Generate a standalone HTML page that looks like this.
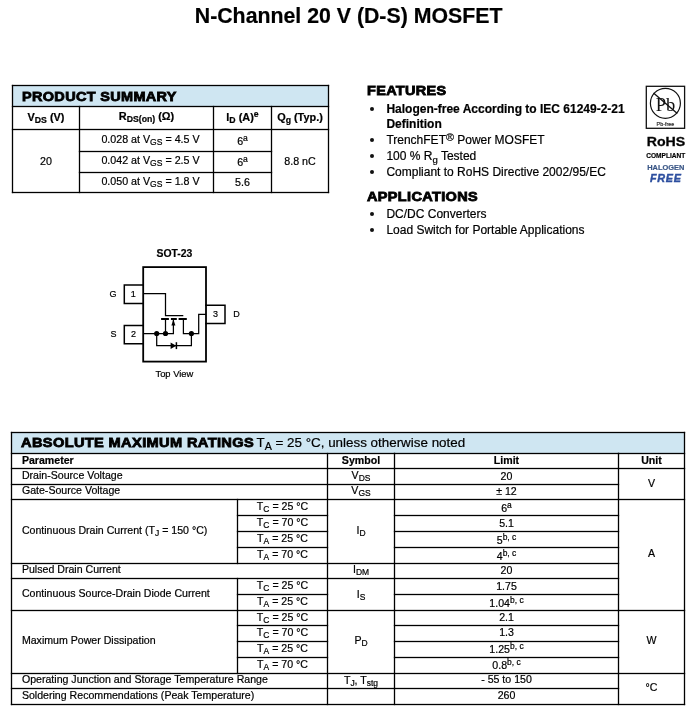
<!DOCTYPE html>
<html><head><meta charset="utf-8"><style>
html,body{margin:0;padding:0;background:#fff;}
body{width:692px;height:710px;position:relative;overflow:hidden;will-change:transform;font-family:"Liberation Sans",sans-serif;color:#000;}
.t{position:absolute;white-space:nowrap;line-height:normal;-webkit-text-stroke:0.2px currentColor;}
.abs{position:absolute;}
.sb{line-height:0;}
.hv{-webkit-text-stroke:0.8px #000;color:#000;}
.dot{position:absolute;width:4px;height:4px;border-radius:50%;background:#111;}
</style></head><body>
<svg class="abs" style="left:0;top:0" width="692" height="710" viewBox="0 0 692 710"><rect x="13" y="86" width="315" height="20" fill="#cfe6f2"/><rect x="12" y="433" width="672" height="20" fill="#cfe6f2"/><g fill="#000"><rect x="11.85" y="84.85" width="317.30" height="1.3"/><rect x="11.85" y="191.85" width="317.30" height="1.3"/><rect x="11.85" y="84.85" width="1.3" height="108.30"/><rect x="327.85" y="84.85" width="1.3" height="108.30"/><rect x="11.85" y="105.85" width="317.30" height="1.3"/><rect x="11.85" y="128.85" width="317.30" height="1.3"/><rect x="78.85" y="150.85" width="193.30" height="1.3"/><rect x="78.85" y="171.85" width="193.30" height="1.3"/><rect x="78.85" y="105.85" width="1.3" height="87.30"/><rect x="212.85" y="105.85" width="1.3" height="87.30"/><rect x="270.85" y="105.85" width="1.3" height="87.30"/><rect x="10.85" y="431.85" width="674.30" height="1.3"/><rect x="10.85" y="431.85" width="1.3" height="273.30"/><rect x="683.85" y="431.85" width="1.3" height="273.30"/><rect x="10.85" y="703.85" width="674.30" height="1.3"/><rect x="10.85" y="452.85" width="384.30" height="1.3"/><rect x="393.85" y="452.85" width="225.30" height="1.3"/><rect x="10.85" y="467.85" width="384.30" height="1.3"/><rect x="393.85" y="467.85" width="225.30" height="1.3"/><rect x="10.85" y="483.85" width="384.30" height="1.3"/><rect x="393.85" y="483.85" width="225.30" height="1.3"/><rect x="10.85" y="498.85" width="384.30" height="1.3"/><rect x="393.85" y="498.85" width="225.30" height="1.3"/><rect x="236.85" y="514.85" width="91.30" height="1.3"/><rect x="393.85" y="514.85" width="225.30" height="1.3"/><rect x="236.85" y="530.85" width="91.30" height="1.3"/><rect x="393.85" y="530.85" width="225.30" height="1.3"/><rect x="236.85" y="546.85" width="91.30" height="1.3"/><rect x="393.85" y="546.85" width="225.30" height="1.3"/><rect x="10.85" y="562.85" width="384.30" height="1.3"/><rect x="393.85" y="562.85" width="225.30" height="1.3"/><rect x="10.85" y="577.85" width="384.30" height="1.3"/><rect x="393.85" y="577.85" width="225.30" height="1.3"/><rect x="236.85" y="593.85" width="91.30" height="1.3"/><rect x="393.85" y="593.85" width="225.30" height="1.3"/><rect x="10.85" y="609.85" width="384.30" height="1.3"/><rect x="393.85" y="609.85" width="225.30" height="1.3"/><rect x="236.85" y="624.85" width="91.30" height="1.3"/><rect x="393.85" y="624.85" width="225.30" height="1.3"/><rect x="236.85" y="640.85" width="91.30" height="1.3"/><rect x="393.85" y="640.85" width="225.30" height="1.3"/><rect x="236.85" y="656.85" width="91.30" height="1.3"/><rect x="393.85" y="656.85" width="225.30" height="1.3"/><rect x="10.85" y="672.85" width="384.30" height="1.3"/><rect x="393.85" y="672.85" width="225.30" height="1.3"/><rect x="10.85" y="687.85" width="384.30" height="1.3"/><rect x="393.85" y="687.85" width="225.30" height="1.3"/><rect x="617.85" y="452.85" width="67.30" height="1.3"/><rect x="617.85" y="467.85" width="67.30" height="1.3"/><rect x="617.85" y="498.85" width="67.30" height="1.3"/><rect x="617.85" y="609.85" width="67.30" height="1.3"/><rect x="617.85" y="672.85" width="67.30" height="1.3"/><rect x="326.85" y="452.85" width="1.3" height="252.30"/><rect x="393.85" y="452.85" width="1.3" height="252.30"/><rect x="617.85" y="452.85" width="1.3" height="252.30"/><rect x="236.85" y="498.85" width="1.3" height="65.30"/><rect x="236.85" y="577.85" width="1.3" height="33.30"/><rect x="236.85" y="609.85" width="1.3" height="64.30"/></g></svg>
<div class="t " style="left:48.60px;width:600px;text-align:center;top:4.00px;font-size:21.3px;font-weight:bold;">N-Channel 20 V (D-S) MOSFET</div><div class="t hv" style="left:22.00px;top:90.00px;font-size:12.7px;font-weight:bold;letter-spacing:0.3px;transform:scaleX(1.14);transform-origin:0 0">PRODUCT SUMMARY</div><div class="t " style="left:-254.00px;width:600px;text-align:center;top:111.00px;font-size:10.9px;font-weight:bold;">V<span class="sb" style="font-size:0.8em;vertical-align:-0.28em">DS</span> (V)</div><div class="t " style="left:-153.50px;width:600px;text-align:center;top:110.00px;font-size:10.9px;font-weight:bold;">R<span class="sb" style="font-size:0.8em;vertical-align:-0.28em">DS(on)</span> (&Omega;)</div><div class="t " style="left:-57.50px;width:600px;text-align:center;top:111.00px;font-size:10.9px;font-weight:bold;">I<span class="sb" style="font-size:0.8em;vertical-align:-0.28em">D</span> (A)<span class="sb" style="font-size:0.8em;vertical-align:4.2px">e</span></div><div class="t " style="left:0.00px;width:600px;text-align:center;top:111.00px;font-size:10.9px;font-weight:bold;">Q<span class="sb" style="font-size:0.8em;vertical-align:-0.28em">g</span> (Typ.)</div><div class="t " style="left:-149.50px;width:600px;text-align:center;top:133.00px;font-size:10.7px;">0.028 at V<span class="sb" style="font-size:0.8em;vertical-align:-0.28em">GS</span> = 4.5 V</div><div class="t " style="left:-149.50px;width:600px;text-align:center;top:154.00px;font-size:10.7px;">0.042 at V<span class="sb" style="font-size:0.8em;vertical-align:-0.28em">GS</span> = 2.5 V</div><div class="t " style="left:-149.50px;width:600px;text-align:center;top:175.00px;font-size:10.7px;">0.050 at V<span class="sb" style="font-size:0.8em;vertical-align:-0.28em">GS</span> = 1.8 V</div><div class="t " style="left:-57.50px;width:600px;text-align:center;top:135.00px;font-size:10.7px;">6<span class="sb" style="font-size:0.8em;vertical-align:4.2px">a</span></div><div class="t " style="left:-57.50px;width:600px;text-align:center;top:156.00px;font-size:10.7px;">6<span class="sb" style="font-size:0.8em;vertical-align:4.2px">a</span></div><div class="t " style="left:-57.50px;width:600px;text-align:center;top:176.00px;font-size:10.7px;">5.6</div><div class="t " style="left:-254.00px;width:600px;text-align:center;top:155.00px;font-size:10.7px;">20</div><div class="t " style="left:0.00px;width:600px;text-align:center;top:155.00px;font-size:10.7px;">8.8 nC</div><div class="t hv" style="left:367.40px;top:84.00px;font-size:12.4px;font-weight:bold;letter-spacing:0.3px;transform:scaleX(1.166);transform-origin:0 0">FEATURES</div><div class="dot" style="left:369.5px;top:106.8px"></div><div class="t " style="left:386.40px;top:102.00px;font-size:12px;font-weight:bold;">Halogen-free According to IEC 61249-2-21</div><div class="t " style="left:386.40px;top:117.00px;font-size:12px;font-weight:bold;">Definition</div><div class="dot" style="left:369.5px;top:137.8px"></div><div class="t " style="left:386.40px;top:133.00px;font-size:12px;">TrenchFET<span class="sb" style="font-size:0.9em;vertical-align:3.2px">&reg;</span> Power MOSFET</div><div class="dot" style="left:369.5px;top:154.0px"></div><div class="t " style="left:386.40px;top:149.00px;font-size:12px;">100 % R<span class="sb" style="font-size:0.8em;vertical-align:-0.28em">g</span> Tested</div><div class="dot" style="left:369.5px;top:170.4px"></div><div class="t " style="left:386.40px;top:165.00px;font-size:12px;">Compliant to RoHS Directive 2002/95/EC</div><div class="t hv" style="left:367.40px;top:190.00px;font-size:12.4px;font-weight:bold;letter-spacing:0.3px;transform:scaleX(1.169);transform-origin:0 0">APPLICATIONS</div><div class="dot" style="left:369.5px;top:211.6px"></div><div class="t " style="left:386.40px;top:207.00px;font-size:12px;">DC/DC Converters</div><div class="dot" style="left:369.5px;top:227.5px"></div><div class="t " style="left:386.40px;top:223.00px;font-size:12px;">Load Switch for Portable Applications</div><svg class="abs" style="left:0;top:0" width="692" height="710" viewBox="0 0 692 710">
<rect x="646.3" y="86.3" width="38.3" height="42" fill="none" stroke="#111" stroke-width="1.3"/>
<circle cx="665.4" cy="103.3" r="15" fill="none" stroke="#111" stroke-width="1.2"/>
<text x="665.4" y="110.8" font-family="Liberation Serif" font-size="18.5" text-anchor="middle" fill="#111">Pb</text>
<line x1="653.5" y1="93" x2="677.3" y2="113.5" stroke="#111" stroke-width="1.3"/>
<text x="665.4" y="126" font-family="Liberation Sans" font-size="5.4" text-anchor="middle" fill="#222" stroke="#222" stroke-width="0.15">Pb-free</text>
</svg><div class="t " style="left:365.50px;width:600px;text-align:center;top:135.00px;font-size:12.3px;font-weight:bold;transform:scaleX(1.15);-webkit-text-stroke:0.3px #111">RoHS</div><div class="t " style="left:365.30px;width:600px;text-align:center;top:151.00px;font-size:8.0px;font-weight:bold;"><span style="display:inline-block;transform:scaleX(0.82)">COMPLIANT</span></div><div class="t " style="left:365.50px;width:600px;text-align:center;top:163.00px;font-size:7.9px;font-weight:bold;color:#3a5686"><span style="display:inline-block;transform:scaleX(0.94)">HALOGEN</span></div><div class="t " style="left:365.80px;width:600px;text-align:center;top:172.00px;font-size:10.8px;font-weight:bold;color:#2d4f9f;font-style:italic;letter-spacing:0.7px;-webkit-text-stroke:0.4px #2d4f9f">FREE</div><div class="t " style="left:-125.60px;width:600px;text-align:center;top:248.00px;font-size:10.4px;font-weight:bold;">SOT-23</div><div class="t " style="left:-125.60px;width:600px;text-align:center;top:368.00px;font-size:9.4px;">Top View</div><div class="t " style="left:-187.00px;width:600px;text-align:center;top:289.00px;font-size:9px;">G</div><div class="t " style="left:-186.60px;width:600px;text-align:center;top:329.00px;font-size:9px;">S</div><div class="t " style="left:-166.70px;width:600px;text-align:center;top:289.00px;font-size:9px;">1</div><div class="t " style="left:-166.50px;width:600px;text-align:center;top:329.00px;font-size:9px;">2</div><div class="t " style="left:-84.60px;width:600px;text-align:center;top:309.00px;font-size:9px;">3</div><div class="t " style="left:-63.60px;width:600px;text-align:center;top:309.00px;font-size:9px;">D</div><svg class="abs" style="left:0;top:0" width="692" height="710" viewBox="0 0 692 710">
<g fill="none" stroke="#000" stroke-linejoin="miter" stroke-linecap="square">
<rect x="143.2" y="267.1" width="62.8" height="94.5" stroke-width="1.8"/>
<polyline points="143.2,285.1 124.3,285.1 124.3,303.5 143.2,303.5" stroke-width="1.5"/>
<polyline points="143.2,325.5 124.3,325.5 124.3,343.7 143.2,343.7" stroke-width="1.5"/>
<polyline points="206,305.2 225,305.2 225,323.5 206,323.5" stroke-width="1.5"/>
</g>
<g fill="none" stroke="#000" stroke-linejoin="miter" stroke-linecap="butt">
<polyline points="143.2,293.6 165.5,293.6 165.5,315.5 183.3,315.5" stroke-width="1.25"/>
<polyline points="206,314.4 198.7,314.4 198.7,333.6 183.4,333.6 183.4,319" stroke-width="1.25"/>
<polyline points="143.2,333.6 173.4,333.6 173.4,319" stroke-width="1.25"/>
<line x1="165.5" y1="319" x2="165.5" y2="333.6" stroke-width="1.25"/>
<polyline points="156.7,333.6 156.7,345.7 191.4,345.7 191.4,333.6" stroke-width="1.25"/>
<line x1="161.1" y1="319" x2="168.9" y2="319" stroke-width="2"/>
<line x1="170.9" y1="319" x2="176.8" y2="319" stroke-width="2"/>
<line x1="178.6" y1="319" x2="186.8" y2="319" stroke-width="2"/>
<line x1="176.4" y1="342.2" x2="176.4" y2="349.1" stroke-width="1.5"/>
</g>
<g fill="#000">
<circle cx="156.7" cy="333.5" r="2.6"/>
<circle cx="165.5" cy="333.5" r="2.6"/>
<circle cx="191.4" cy="333.5" r="2.6"/>
<polygon points="170.6,342.5 176.2,345.7 170.6,348.9"/>
<polygon points="173.4,319.6 171.4,325.4 175.4,325.4"/>
</g>
</svg><div class="t hv" style="left:21.30px;top:435.00px;font-size:12.8px;font-weight:bold;letter-spacing:0.3px;transform:scaleX(1.143);transform-origin:0 0">ABSOLUTE MAXIMUM RATINGS</div><div class="t " style="left:256.50px;top:435.00px;font-size:13.4px;">T<span class="sb" style="font-size:0.8em;vertical-align:-0.3em">A</span> = 25 °C, unless otherwise noted</div><div class="t " style="left:21.90px;top:454.00px;font-size:10.6px;font-weight:bold;">Parameter</div><div class="t " style="left:61.00px;width:600px;text-align:center;top:454.00px;font-size:10.6px;font-weight:bold;">Symbol</div><div class="t " style="left:206.50px;width:600px;text-align:center;top:454.00px;font-size:10.6px;font-weight:bold;">Limit</div><div class="t " style="left:351.50px;width:600px;text-align:center;top:454.00px;font-size:10.6px;font-weight:bold;">Unit</div><div class="t " style="left:21.90px;top:469.00px;font-size:10.6px;">Drain-Source Voltage</div><div class="t " style="left:21.90px;top:484.00px;font-size:10.6px;">Gate-Source Voltage</div><div class="t " style="left:21.90px;top:524.00px;font-size:10.6px;">Continuous Drain Current (T<span class="sb" style="font-size:0.8em;vertical-align:-0.28em">J</span> = 150 °C)</div><div class="t " style="left:21.90px;top:563.00px;font-size:10.6px;">Pulsed Drain Current</div><div class="t " style="left:21.90px;top:587.00px;font-size:10.6px;">Continuous Source-Drain Diode Current</div><div class="t " style="left:21.90px;top:634.00px;font-size:10.6px;">Maximum Power Dissipation</div><div class="t " style="left:21.90px;top:673.00px;font-size:10.6px;">Operating Junction and Storage Temperature Range</div><div class="t " style="left:21.90px;top:689.00px;font-size:10.6px;">Soldering Recommendations (Peak Temperature)</div><div class="t " style="left:-17.50px;width:600px;text-align:center;top:500.00px;font-size:10.6px;">T<span class="sb" style="font-size:0.8em;vertical-align:-0.28em">C</span> = 25 °C</div><div class="t " style="left:-17.50px;width:600px;text-align:center;top:516.00px;font-size:10.6px;">T<span class="sb" style="font-size:0.8em;vertical-align:-0.28em">C</span> = 70 °C</div><div class="t " style="left:-17.50px;width:600px;text-align:center;top:532.00px;font-size:10.6px;">T<span class="sb" style="font-size:0.8em;vertical-align:-0.28em">A</span> = 25 °C</div><div class="t " style="left:-17.50px;width:600px;text-align:center;top:548.00px;font-size:10.6px;">T<span class="sb" style="font-size:0.8em;vertical-align:-0.28em">A</span> = 70 °C</div><div class="t " style="left:-17.50px;width:600px;text-align:center;top:579.00px;font-size:10.6px;">T<span class="sb" style="font-size:0.8em;vertical-align:-0.28em">C</span> = 25 °C</div><div class="t " style="left:-17.50px;width:600px;text-align:center;top:595.00px;font-size:10.6px;">T<span class="sb" style="font-size:0.8em;vertical-align:-0.28em">A</span> = 25 °C</div><div class="t " style="left:-17.50px;width:600px;text-align:center;top:611.00px;font-size:10.6px;">T<span class="sb" style="font-size:0.8em;vertical-align:-0.28em">C</span> = 25 °C</div><div class="t " style="left:-17.50px;width:600px;text-align:center;top:626.00px;font-size:10.6px;">T<span class="sb" style="font-size:0.8em;vertical-align:-0.28em">C</span> = 70 °C</div><div class="t " style="left:-17.50px;width:600px;text-align:center;top:642.00px;font-size:10.6px;">T<span class="sb" style="font-size:0.8em;vertical-align:-0.28em">A</span> = 25 °C</div><div class="t " style="left:-17.50px;width:600px;text-align:center;top:658.00px;font-size:10.6px;">T<span class="sb" style="font-size:0.8em;vertical-align:-0.28em">A</span> = 70 °C</div><div class="t " style="left:61.00px;width:600px;text-align:center;top:469.00px;font-size:10.6px;">V<span class="sb" style="font-size:0.8em;vertical-align:-0.28em">DS</span></div><div class="t " style="left:61.00px;width:600px;text-align:center;top:484.00px;font-size:10.6px;">V<span class="sb" style="font-size:0.8em;vertical-align:-0.28em">GS</span></div><div class="t " style="left:61.00px;width:600px;text-align:center;top:524.00px;font-size:10.6px;">I<span class="sb" style="font-size:0.8em;vertical-align:-0.28em">D</span></div><div class="t " style="left:61.00px;width:600px;text-align:center;top:563.00px;font-size:10.6px;">I<span class="sb" style="font-size:0.8em;vertical-align:-0.28em">DM</span></div><div class="t " style="left:61.00px;width:600px;text-align:center;top:588.00px;font-size:10.6px;">I<span class="sb" style="font-size:0.8em;vertical-align:-0.28em">S</span></div><div class="t " style="left:61.00px;width:600px;text-align:center;top:634.00px;font-size:10.6px;">P<span class="sb" style="font-size:0.8em;vertical-align:-0.28em">D</span></div><div class="t " style="left:61.00px;width:600px;text-align:center;top:674.00px;font-size:10.6px;">T<span class="sb" style="font-size:0.8em;vertical-align:-0.28em">J</span>, T<span class="sb" style="font-size:0.8em;vertical-align:-0.28em">stg</span></div><div class="t " style="left:206.50px;width:600px;text-align:center;top:470.00px;font-size:10.6px;">20</div><div class="t " style="left:206.50px;width:600px;text-align:center;top:485.00px;font-size:10.6px;">± 12</div><div class="t " style="left:206.50px;width:600px;text-align:center;top:502.00px;font-size:10.6px;">6<span class="sb" style="font-size:0.8em;vertical-align:4.2px">a</span></div><div class="t " style="left:206.50px;width:600px;text-align:center;top:517.00px;font-size:10.6px;">5.1</div><div class="t " style="left:206.50px;width:600px;text-align:center;top:534.00px;font-size:10.6px;">5<span class="sb" style="font-size:0.8em;vertical-align:4.4px">b, c</span></div><div class="t " style="left:206.50px;width:600px;text-align:center;top:550.00px;font-size:10.6px;">4<span class="sb" style="font-size:0.8em;vertical-align:4.4px">b, c</span></div><div class="t " style="left:206.50px;width:600px;text-align:center;top:564.00px;font-size:10.6px;">20</div><div class="t " style="left:206.50px;width:600px;text-align:center;top:580.00px;font-size:10.6px;">1.75</div><div class="t " style="left:206.50px;width:600px;text-align:center;top:597.00px;font-size:10.6px;">1.04<span class="sb" style="font-size:0.8em;vertical-align:4.4px">b, c</span></div><div class="t " style="left:206.50px;width:600px;text-align:center;top:611.00px;font-size:10.6px;">2.1</div><div class="t " style="left:206.50px;width:600px;text-align:center;top:626.00px;font-size:10.6px;">1.3</div><div class="t " style="left:206.50px;width:600px;text-align:center;top:643.00px;font-size:10.6px;">1.25<span class="sb" style="font-size:0.8em;vertical-align:4.4px">b, c</span></div><div class="t " style="left:206.50px;width:600px;text-align:center;top:659.00px;font-size:10.6px;">0.8<span class="sb" style="font-size:0.8em;vertical-align:4.4px">b, c</span></div><div class="t " style="left:206.50px;width:600px;text-align:center;top:673.00px;font-size:10.6px;">- 55 to 150</div><div class="t " style="left:206.50px;width:600px;text-align:center;top:689.00px;font-size:10.6px;">260</div><div class="t " style="left:351.50px;width:600px;text-align:center;top:477.00px;font-size:10.6px;">V</div><div class="t " style="left:351.50px;width:600px;text-align:center;top:547.00px;font-size:10.6px;">A</div><div class="t " style="left:351.50px;width:600px;text-align:center;top:634.00px;font-size:10.6px;">W</div><div class="t " style="left:351.50px;width:600px;text-align:center;top:681.00px;font-size:10.6px;">°C</div>
</body></html>
